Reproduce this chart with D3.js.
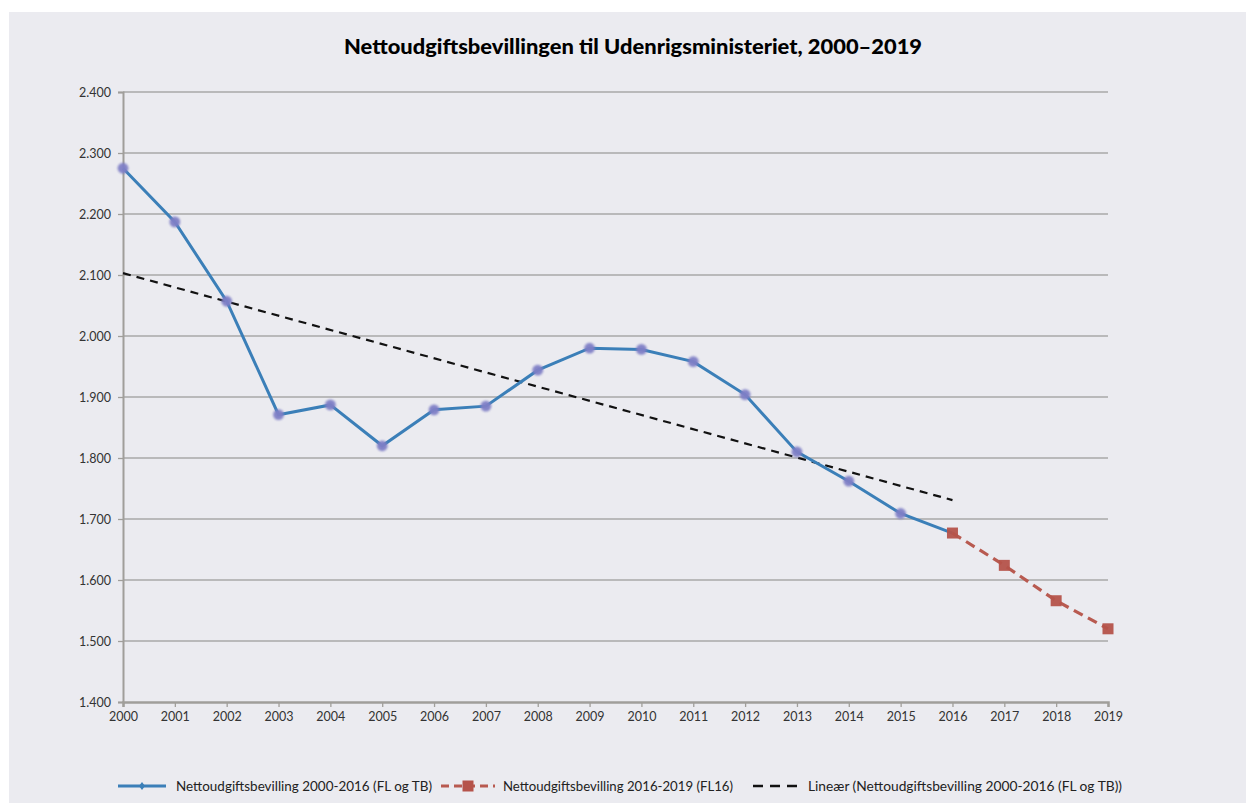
<!DOCTYPE html>
<html><head><meta charset="utf-8">
<script src="https://cdn.jsdelivr.net/npm/d3@7"></script>
<style>html,body{margin:0;padding:0;background:#fff;}</style>
</head><body>
<svg id="c" width="1246" height="803"></svg>
<script>
const years1 = [2000,2001,2002,2003,2004,2005,2006,2007,2008,2009,2010,2011,2012,2013,2014,2015,2016];
const values1 = [2275,2187,2057,1871,1887,1820,1879,1885,1944,1980,1978,1958,1904,1810,1762,1709,1677];
const years2 = [2016,2017,2018,2019];
const values2 = [1677,1624,1566,1520];
const trendYears = [2000,2016];
const trendValues = [2103,1731];
const yTicks = [1400,1500,1600,1700,1800,1900,2000,2100,2200,2300,2400];
const xTicks = d3.range(2000,2020);
const title = "Nettoudgiftsbevillingen til Udenrigsministeriet, 2000–2019";
const legendLabels = ["Nettoudgiftsbevilling 2000-2016 (FL og TB)","Nettoudgiftsbevilling 2016-2019 (FL16)","Lineær (Nettoudgiftsbevilling 2000-2016 (FL og TB))"];

const svg = d3.select("#c");
svg.append("rect").attr("x",9).attr("y",12).attr("width",1237).attr("height",791).attr("fill","#ebebf0");

const x = d3.scaleLinear().domain([2000,2019]).range([123,1108]);
const y = d3.scaleLinear().domain([1400,2400]).range([702,92]);

const defs = svg.append("defs");
defs.append("filter").attr("id","blur").attr("x","-50%").attr("y","-50%").attr("width","200%").attr("height","200%")
  .append("feGaussianBlur").attr("stdDeviation",0.9);

// grid
svg.append("g").selectAll("line").data(yTicks.slice(1)).join("line")
  .attr("x1",x(2000)).attr("x2",x(2019)).attr("y1",d=>y(d)).attr("y2",d=>y(d))
  .attr("stroke","#a8a8a8").attr("stroke-width",1.3);

// y axis
const yAxis = d3.axisLeft(y).tickValues(yTicks).tickSize(5).tickPadding(7)
  .tickFormat(d=>d3.format(",")(d).replace(",","."));
const gy = svg.append("g").attr("transform",`translate(${x(2000)},0)`).call(yAxis);
gy.select(".domain").attr("stroke","#a09e9a").attr("stroke-width",2);
gy.selectAll(".tick line").attr("stroke","#a09e9a").attr("stroke-width",1.3);
gy.selectAll("text").attr("font-family","Lato, sans-serif").attr("font-size",12.5).attr("fill","#333");

// x axis
const xAxis = d3.axisBottom(x).tickValues(xTicks).tickSize(5).tickPadding(5).tickFormat(d3.format("d"));
const gx = svg.append("g").attr("transform",`translate(0,${y(1400)})`).call(xAxis);
gx.select(".domain").attr("stroke","#a09e9a").attr("stroke-width",2.5);
gx.selectAll(".tick line").attr("stroke","#a09e9a").attr("stroke-width",1.3);
gx.selectAll("text").attr("font-family","Lato, sans-serif").attr("font-size",12.5).attr("fill","#333");

const line = d3.line().x(d=>x(d[0])).y(d=>y(d[1]));

// trend
svg.append("path").datum(d3.zip(trendYears,trendValues)).attr("d",line)
  .attr("fill","none").attr("stroke","#111").attr("stroke-width",2.2).attr("stroke-dasharray","8,6");

// series 1
svg.append("path").datum(d3.zip(years1,values1)).attr("d",line)
  .attr("fill","none").attr("stroke","#3b7fb8").attr("stroke-width",3);
svg.append("g").selectAll("circle").data(d3.zip(years1,values1).slice(0,-1)).join("circle")
  .attr("cx",d=>x(d[0])).attr("cy",d=>y(d[1])).attr("r",5.4)
  .attr("fill","#7f7fc6").attr("opacity",0.95).attr("filter","url(#blur)");

// series 2
svg.append("path").datum(d3.zip(years2,values2)).attr("d",line)
  .attr("fill","none").attr("stroke","#b85a50").attr("stroke-width",3.2).attr("stroke-dasharray","10,6");
svg.append("g").selectAll("rect").data(d3.zip(years2,values2)).join("rect")
  .attr("x",d=>x(d[0])-5.5).attr("y",d=>y(d[1])-5.5).attr("width",11).attr("height",11)
  .attr("fill","#b5534a").attr("opacity",0.95);

// title
svg.append("text").attr("x",633).attr("y",54).attr("text-anchor","middle")
  .attr("font-family","Lato, sans-serif").attr("font-weight",900).attr("font-size",20).attr("fill","#000")
  .attr("textLength",578).attr("lengthAdjust","spacingAndGlyphs")
  .text(title);

// legend
const lg = svg.append("g").attr("font-family","Lato, sans-serif").attr("font-size",13).attr("fill","#222");
const ly = 786;
// item 1
lg.append("line").attr("x1",118).attr("x2",166).attr("y1",ly).attr("y2",ly).attr("stroke","#3b7fb8").attr("stroke-width",3);
lg.append("path").attr("d",`M${142},${ly-4}L${145},${ly}L${142},${ly+4}L${139},${ly}Z`).attr("fill","#3b7fb8");
lg.append("text").attr("x",176).attr("y",ly+4.5).text(legendLabels[0]).attr("textLength",256).attr("lengthAdjust","spacingAndGlyphs");
// item 2
lg.append("line").attr("x1",441).attr("x2",495).attr("y1",ly).attr("y2",ly).attr("stroke","#b85a50").attr("stroke-width",3).attr("stroke-dasharray","8,5");
lg.append("rect").attr("x",462.5).attr("y",ly-5.5).attr("width",11).attr("height",11).attr("fill","#b5534a");
lg.append("text").attr("x",503).attr("y",ly+4.5).text(legendLabels[1]).attr("textLength",230).attr("lengthAdjust","spacingAndGlyphs");
// item 3
lg.append("line").attr("x1",753).attr("x2",797).attr("y1",ly).attr("y2",ly).attr("stroke","#111").attr("stroke-width",2.5).attr("stroke-dasharray","10,7");
lg.append("text").attr("x",808).attr("y",ly+4.5).text(legendLabels[2]).attr("textLength",314).attr("lengthAdjust","spacingAndGlyphs");
</script>
</body></html>
